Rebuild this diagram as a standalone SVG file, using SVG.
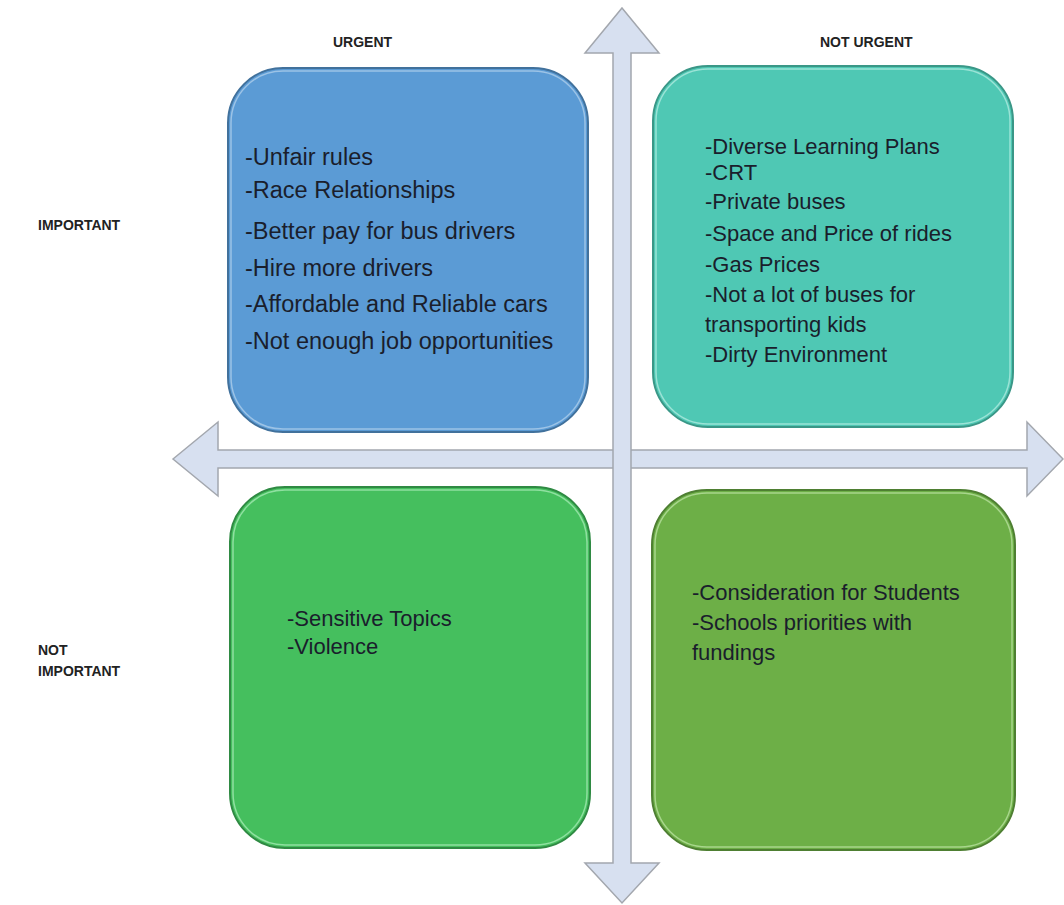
<svg xmlns="http://www.w3.org/2000/svg" width="1064" height="905" viewBox="0 0 1064 905">
<style>
.arrow{fill:#D7E0F0;stroke:#A3A7AE;stroke-width:1.5;stroke-linejoin:miter}
.box{stroke-width:2}
.t{font-family:"Liberation Sans",Arial,sans-serif;font-size:22px;fill:#1A1E2C}
.tb{font-size:23.5px}
.lbl{font-family:"Liberation Sans",Arial,sans-serif;font-size:14px;font-weight:bold;fill:#222}
</style>
<rect width="1064" height="905" fill="#ffffff"/>
<g id="connectors">
<polygon class="arrow" points="173,459 218,422 218,450 1027,450 1027,422 1063,459 1027,496 1027,468 218,468 218,496"/>
<polygon class="arrow" points="622,8 659,53 631,53 631,863 659,863 622,903 585,863 613,863 613,53 585,53"/>
</g>
<g id="urgent-important">
<rect class="box" x="228" y="68" width="360" height="364" rx="55" fill="#5B9BD5" stroke="#41719C"/>
<rect x="231" y="71" width="354" height="358" rx="52" fill="none" stroke="#9CC3E6" stroke-width="1.5"/>
<text class="t tb" x="245" y="165">-Unfair rules</text>
<text class="t tb" x="245" y="198">-Race Relationships</text>
<text class="t tb" x="245" y="239">-Better pay for bus drivers</text>
<text class="t tb" x="245" y="276">-Hire more drivers</text>
<text class="t tb" x="245" y="312">-Affordable and Reliable cars</text>
<text class="t tb" x="245" y="349">-Not enough job opportunities</text>
</g>
<g id="noturgent-important">
<rect class="box" x="653" y="66" width="360" height="361" rx="55" fill="#4FC8B4" stroke="#3A9787"/>
<rect x="656" y="69" width="354" height="355" rx="52" fill="none" stroke="#9BE3D6" stroke-width="1.5"/>
<text class="t" x="705" y="154">-Diverse Learning Plans</text>
<text class="t" x="705" y="180">-CRT</text>
<text class="t" x="705" y="209">-Private buses</text>
<text class="t" x="705" y="241">-Space and Price of rides</text>
<text class="t" x="705" y="272">-Gas Prices</text>
<text class="t" x="705" y="302">-Not a lot of buses for</text>
<text class="t" x="705" y="332">transporting kids</text>
<text class="t" x="705" y="362">-Dirty Environment</text>
</g>
<g id="urgent-notimportant">
<rect class="box" x="230" y="487" width="360" height="361" rx="55" fill="#45BF5E" stroke="#2F8A43"/>
<rect x="233" y="490" width="354" height="355" rx="52" fill="none" stroke="#8FE0A0" stroke-width="1.5"/>
<text class="t" x="287" y="626" font-size="22.3">-Sensitive Topics</text>
<text class="t" x="287" y="654" font-size="22.3">-Violence</text>
</g>
<g id="noturgent-notimportant">
<rect class="box" x="652" y="490" width="363" height="360" rx="55" fill="#6DAF47" stroke="#4E7F32"/>
<rect x="655" y="493" width="357" height="354" rx="52" fill="none" stroke="#A8D68C" stroke-width="1.5"/>
<text class="t" x="692" y="600" font-size="22.5">-Consideration for Students</text>
<text class="t" x="692" y="630" font-size="22.5">-Schools priorities with</text>
<text class="t" x="692" y="660" font-size="22.5">fundings</text>
</g>
<g id="labels">
<text class="lbl" x="333" y="47" font-size="13.5">URGENT</text>
<text class="lbl" x="820" y="47" font-size="14.5">NOT URGENT</text>
<text class="lbl" x="38" y="230">IMPORTANT</text>
<text class="lbl" x="38" y="655">NOT</text>
<text class="lbl" x="38" y="676">IMPORTANT</text>
</g>
</svg>
